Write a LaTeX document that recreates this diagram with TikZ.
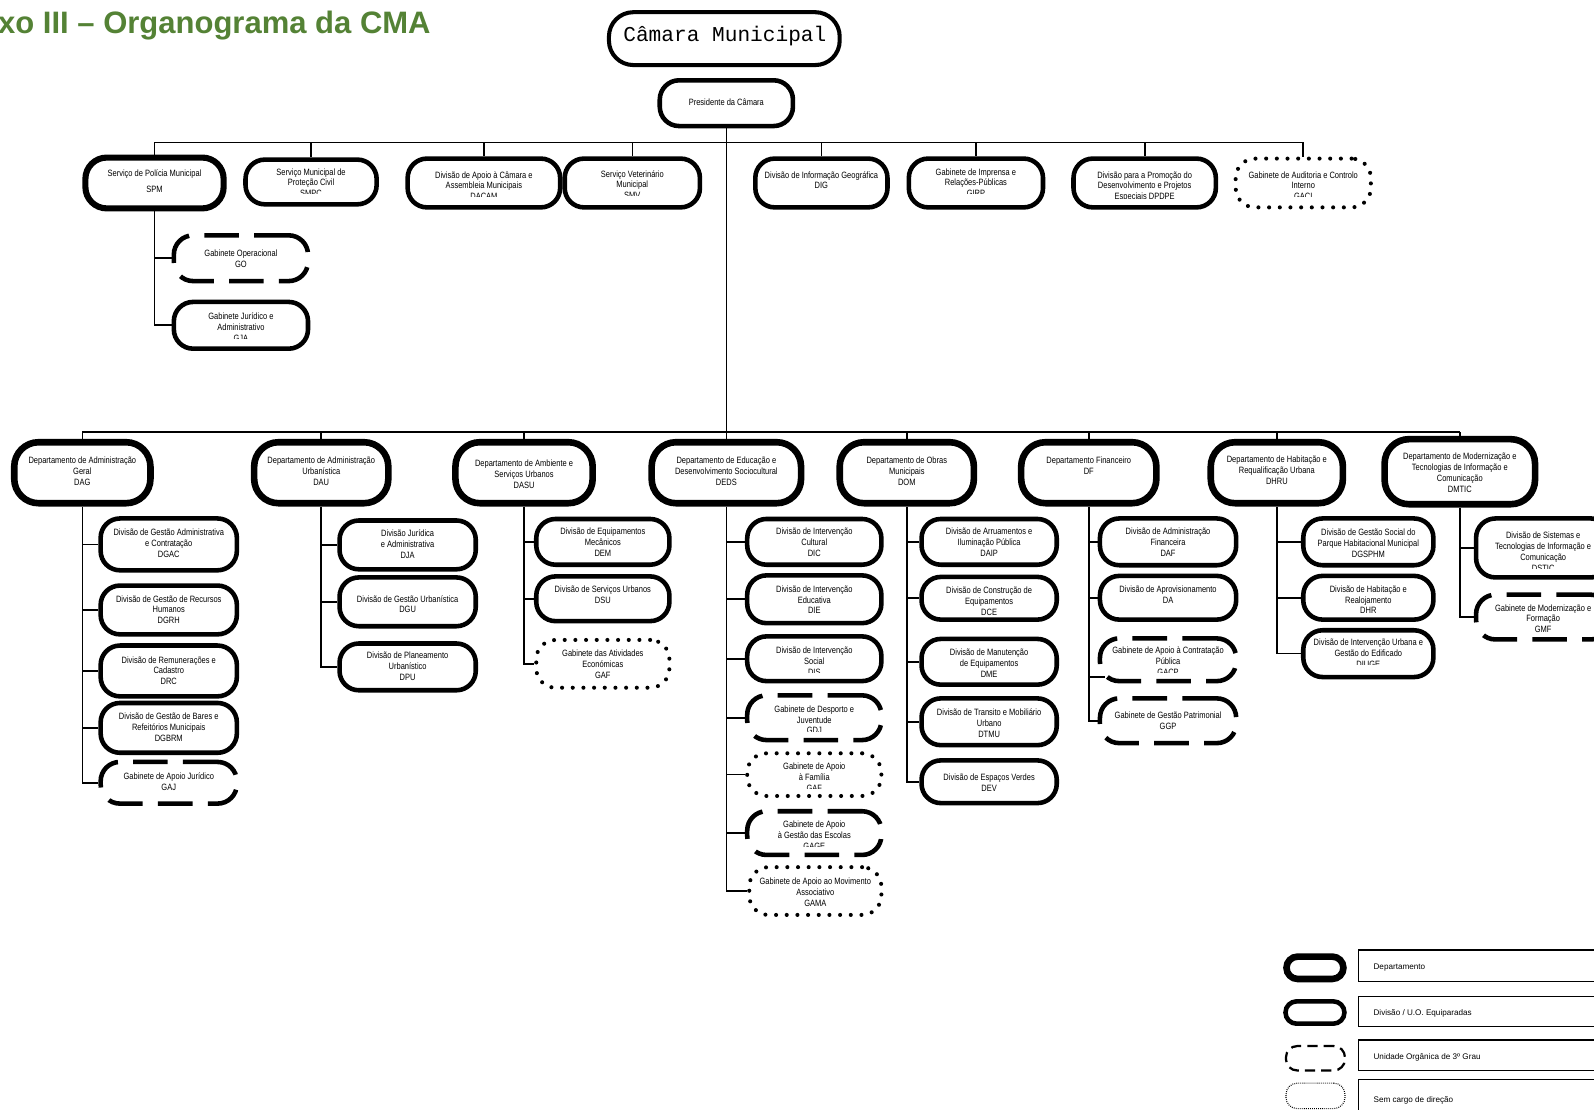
\documentclass[tikz,border=0pt]{standalone}
\usepackage{fontspec}
\setmainfont{Liberation Sans}
\newfontfamily\nar[FakeStretch=0.82]{Liberation Sans}
\newfontfamily\orgmono{Liberation Mono}
\usetikzlibrary{calc}
\definecolor{titlegreen}{RGB}{84,130,53}

% \orgbox[clip y]{style}{name}{cx}{cy}{width}{height}{first line y}{text}
\newcommand\orgbox[9][2000]{%
  \node[#2, minimum width=#6pt-4pt, minimum height=#7pt-4pt] (#3) at (#4,#5) {};
  \begin{scope}
    \clip (#4-#6/2-25,#8-20) rectangle (#4+#6/2+25,#1);
    \node[lbl, anchor=north] (#3-t) at (#4,#8-4) {\rule{0pt}{7pt}#9};
  \end{scope}}

\begin{document}
\begin{tikzpicture}[x=1pt,y=-1pt,
  conn/.style={line width=1.6pt},
  box/.style={draw, line width=4.5pt, rounded corners=19pt, fill=white, inner sep=0pt},
  spmbox/.style={box, line width=6pt, rounded corners=21pt},
  deptbox/.style={box, line width=6.5pt, rounded corners=24pt},
  dashbox/.style={box, dash pattern=on 34pt off 15pt},
  dotbox/.style={box, line width=4pt, line cap=round, dash pattern=on 0pt off 10.5pt},
  lbl/.style={font=\nar\fontsize{9}{10.6}\selectfont, align=center, inner sep=0pt},
  legicon/.style={draw, fill=white, inner sep=0pt, rounded corners=11pt},
  legrect/.style={draw, line width=1.2pt, inner sep=0pt},
  legtxt/.style={font=\fontsize{8}{9}\selectfont, inner sep=0pt, anchor=west}]

\fill[white] (0,0) rectangle (1568,1091);
\useasboundingbox (0,0) rectangle (1568,1091);

% heading
\node[anchor=base west, inner sep=0pt, text=titlegreen,
      font=\bfseries\fontsize{30.5}{36}\selectfont] (title) at (-2,33)
      {xo III – Organograma da CMA};

% top of the hierarchy
\node[box, line width=4pt, rounded corners=24pt, minimum width=227pt, minimum height=52pt] (cam) at (712.5,38) {};
\node[inner sep=0pt, font=\orgmono\fontsize{20.8}{24}\selectfont] (cam-t) at (713,35) {Câmara Municipal};
\orgbox{box}{pres}{714.5}{101.5}{135}{49}{101}{Presidente da Câmara}

% services attached to the presidency
\orgbox{spmbox}{spm}{152}{180}{140}{54}{170}{Serviço de Polícia Municipal\\[5.4pt]SPM}
\orgbox[190.7]{box}{smpc}{306}{179}{133}{48}{169}{Serviço Municipal de\\Proteção Civil\\SMPC}
\orgbox[193.7]{box}{dacam}{476}{180}{154}{52}{172}{Divisão de Apoio à Câmara e\\Assembleia Municipais\\DACAM}
\orgbox[192.7]{box}{smv}{622}{180}{137}{52}{171}{Serviço Veterinário\\Municipal\\SMV}
\orgbox{box}{dig}{808}{180}{134}{52}{172}{Divisão de Informação Geográfica\\DIG}
\orgbox[190.7]{box}{girp}{960}{180}{136}{52}{169}{Gabinete de Imprensa e\\Relações-Públicas\\GIRP}
\orgbox[195.5]{box}{dpdpe}{1126}{180}{144}{52}{172}{Divisão para a Promoção do\\Desenvolvimento e Projetos\\Especiais DPDPE}
\orgbox[193.7]{dotbox}{gaci}{1282}{180}{137}{52}{172}{Gabinete de Auditoria e Controlo\\Interno\\GACI}

\orgbox{dashbox}{go}{237}{254}{136}{49}{249.5}{Gabinete Operacional\\GO}
\orgbox[333]{box}{gja}{237}{320}{136}{50}{311.5}{Gabinete Jurídico e\\Administrativo\\GJA}

% departments
\orgbox{deptbox}{dag}{81}{465}{138}{64}{453}{Departamento de Administração\\Geral\\DAG}
\orgbox{deptbox}{dau}{316}{465}{136}{64}{453}{Departamento de Administração\\Urbanística\\DAU}
\orgbox{deptbox}{dasu}{515.5}{465}{139}{64}{456}{Departamento de Ambiente e\\Serviços Urbanos\\DASU}
\orgbox{deptbox}{deds}{714.5}{465}{151}{64}{453}{Departamento de Educação e\\Desenvolvimento Sociocultural\\DEDS}
\orgbox{deptbox}{dom}{892}{465}{136}{64}{453}{Departamento de Obras\\Municipais\\DOM}
\orgbox{deptbox}{df}{1071}{465}{137}{64}{453}{Departamento Financeiro\\DF}
\orgbox{deptbox}{dhru}{1256}{465}{134}{64}{452}{Departamento de Habitação e\\Requalificação Urbana\\DHRU}
\orgbox{deptbox}{dmtic}{1436}{464}{152}{68}{449}{Departamento de Modernização e\\Tecnologias de Informação e\\Comunicação\\DMTIC}

% DAG units
\orgbox{box}{dgac}{166}{535.5}{138}{55}{524}{Divisão de Gestão Administrativa\\e Contratação\\DGAC}
\orgbox{box}{dgrh}{166}{600}{138}{52}{589}{Divisão de Gestão de Recursos\\Humanos\\DGRH}
\orgbox{box}{drc}{166}{660}{138}{54}{649}{Divisão de Remunerações e\\Cadastro\\DRC}
\orgbox{box}{dgbrm}{166}{716}{138}{53}{705}{Divisão de Gestão de Bares e\\Refeitórios Municipais\\DGBRM}
\orgbox{dashbox}{gaj}{166}{770}{138}{45}{764}{Gabinete de Apoio Jurídico\\GAJ}

% DAU units
\orgbox{box}{dja}{401}{536}{138}{52}{525}{Divisão Jurídica\\e Administrativa\\DJA}
\orgbox{box}{dgu}{401}{592}{138}{52}{589}{Divisão de Gestão Urbanística\\DGU}
\orgbox{box}{dpu}{401}{656}{138}{50}{645}{Divisão de Planeamento\\Urbanístico\\DPU}

% DASU units
\orgbox{box}{dem}{593}{533}{135}{49}{523}{Divisão de Equipamentos\\Mecânicos\\DEM}
\orgbox{box}{dsu}{593}{589}{135}{48}{580}{Divisão de Serviços Urbanos\\DSU}
\orgbox{dotbox}{gafa}{593}{653}{135}{51}{643}{Gabinete das Atividades\\Económicas\\GAF}

% DEDS units
\orgbox{box}{dic}{801}{533}{136}{49}{523}{Divisão de Intervenção\\Cultural\\DIC}
\orgbox{box}{die}{801}{589.5}{136}{51}{579.5}{Divisão de Intervenção\\Educativa\\DIE}
\orgbox[661.7]{box}{dis}{801}{648}{136}{48}{640}{Divisão de Intervenção\\Social\\DIS}
\orgbox[719.2]{dashbox}{gdj}{801}{706}{136}{48}{697.5}{Gabinete de Desporto e\\Juventude\\GDJ}
\orgbox[775.7]{dotbox}{gaff}{801}{762}{136}{46}{754}{Gabinete de Apoio\\à Família\\GAF}
\orgbox[832.7]{dashbox}{gage}{801}{819.5}{136}{47}{811}{Gabinete de Apoio\\à Gestão das Escolas\\GAGE}
\orgbox{dotbox}{gama}{802}{876.5}{134}{51}{867}{Gabinete de Apoio ao Movimento\\Associativo\\GAMA}

% DOM units
\orgbox{box}{daip}{973}{533}{137}{49}{523}{Divisão de Arruamentos e\\Iluminação Pública\\DAIP}
\orgbox{box}{dce}{973}{588.5}{137}{46}{581}{Divisão de Construção de\\Equipamentos\\DCE}
\orgbox{box}{dme}{973}{651}{137}{49}{642}{Divisão de Manutenção\\de Equipamentos\\DME}
\orgbox{box}{dtmu}{973}{710}{137}{50}{701}{Divisão de Transito e Mobiliário\\Urbano\\DTMU}
\orgbox{box}{dev}{973}{769}{137}{46}{764.5}{Divisão de Espaços Verdes\\DEV}

% DF units
\orgbox{box}{daf}{1149}{533}{138}{50}{523}{Divisão de Administração\\Financeira\\DAF}
\orgbox{box}{da}{1149}{588}{138}{47}{579.5}{Divisão de Aprovisionamento\\DA}
\orgbox[661.7]{dashbox}{gacp}{1149}{649}{138}{46}{640}{Gabinete de Apoio à Contratação\\Pública\\GACP}
\orgbox{dashbox}{ggp}{1149}{709}{138}{48}{704}{Gabinete de Gestão Patrimonial\\GGP}

% DHRU units
\orgbox{box}{dgsphm}{1346}{533}{132}{50}{524}{Divisão de Gestão Social do\\Parque Habitacional Municipal\\DGSPHM}
\orgbox{box}{dhr}{1346}{588}{132}{47}{579.5}{Divisão de Habitação e\\Realojamento\\DHR}
\orgbox[653.7]{box}{diuge}{1346}{643}{132}{50}{632}{Divisão de Intervenção Urbana e\\Gestão do Edificado\\DIUGE}

% DMTIC units
\orgbox[559.5]{box}{dstic}{1518}{539}{136}{62}{527}{Divisão de Sistemas e\\Tecnologias de Informação e\\Comunicação\\DSTIC}
\orgbox{dashbox}{gmf}{1518}{607}{136}{48}{598}{Gabinete de Modernização e\\Formação\\GMF}

% connectors
\coordinate (bus1) at (714,140);
\coordinate (bus2) at (714,425);
\draw[conn] (pres.south) -- (pres.south |- bus2);
\draw[conn] (bus1 -| spm.north) -- (bus1 -| gaci.north);
\foreach \s in {spm,smpc,dacam,smv,dig,girp,dpdpe,gaci}
  \draw[conn] (bus1 -| \s.north) -- (\s.north);
\draw[conn] (bus2 -| dag.north) -- (bus2 -| dmtic.north);
\foreach \s in {dag,dau,dasu,deds,dom,df,dhru,dmtic}
  \draw[conn] (bus2 -| \s.north) -- (\s.north);

\foreach \p/\c in {spm/gja, dag/gaj, dau/dpu, dasu/gafa, deds/gama, dom/dev, df/ggp, dhru/diuge, dmtic/gmf}
  \draw[conn] (\p.south) |- (\c.west);
\foreach \p/\c in {spm/go, dag/dgac, dag/dgrh, dag/drc, dag/dgbrm, dau/dja, dau/dgu,
                  dasu/dem, dasu/dsu, deds/dic, deds/die, deds/dis, deds/gdj, deds/gaff, deds/gage,
                  dom/daip, dom/dce, dom/dme, dom/dtmu, df/daf, df/da, dhru/dgsphm, dhru/dhr, dmtic/dstic}
  \draw[conn] (\p.south |- \c.west) -- (\c.west);
\coordinate (gacp-c) at ([xshift=7pt,yshift=-17pt]gacp.west);
\draw[conn] (df.south |- gacp-c) -- (gacp-c);

% legend
\node[legicon, line width=6.5pt, minimum width=56pt, minimum height=22pt] (lg1) at (1293.5,952) {};
\node[legicon, line width=4.5pt, minimum width=58pt, minimum height=22pt] (lg2) at (1293.5,996) {};
\node[legicon, line width=2.2pt, dash pattern=on 10pt off 6pt, minimum width=58pt, minimum height=24pt] (lg3) at (1294,1041) {};
\node[legicon, line width=1.1pt, dash pattern=on 0.8pt off 1.2pt, minimum width=58pt, minimum height=25pt] (lg4) at (1294,1078) {};

\node[legrect, minimum width=256pt, minimum height=31pt] (lr1) at (1464,950) {};
\node[legrect, minimum width=256pt, minimum height=30pt] (lr2) at (1464,995) {};
\node[legrect, minimum width=256pt, minimum height=30pt] (lr3) at (1464,1038) {};
\node[legrect, minimum width=256pt, minimum height=40pt] (lr4) at (1464,1082) {};
\node[legtxt] (lt1) at (1351,952) {Departamento};
\node[legtxt] (lt2) at (1351,997) {Divisão / U.O. Equiparadas};
\node[legtxt] (lt3) at (1351,1040) {Unidade Orgânica de 3º Grau};
\node[legtxt] (lt4) at (1351,1082) {Sem cargo de direção};
\end{tikzpicture}
\end{document}
